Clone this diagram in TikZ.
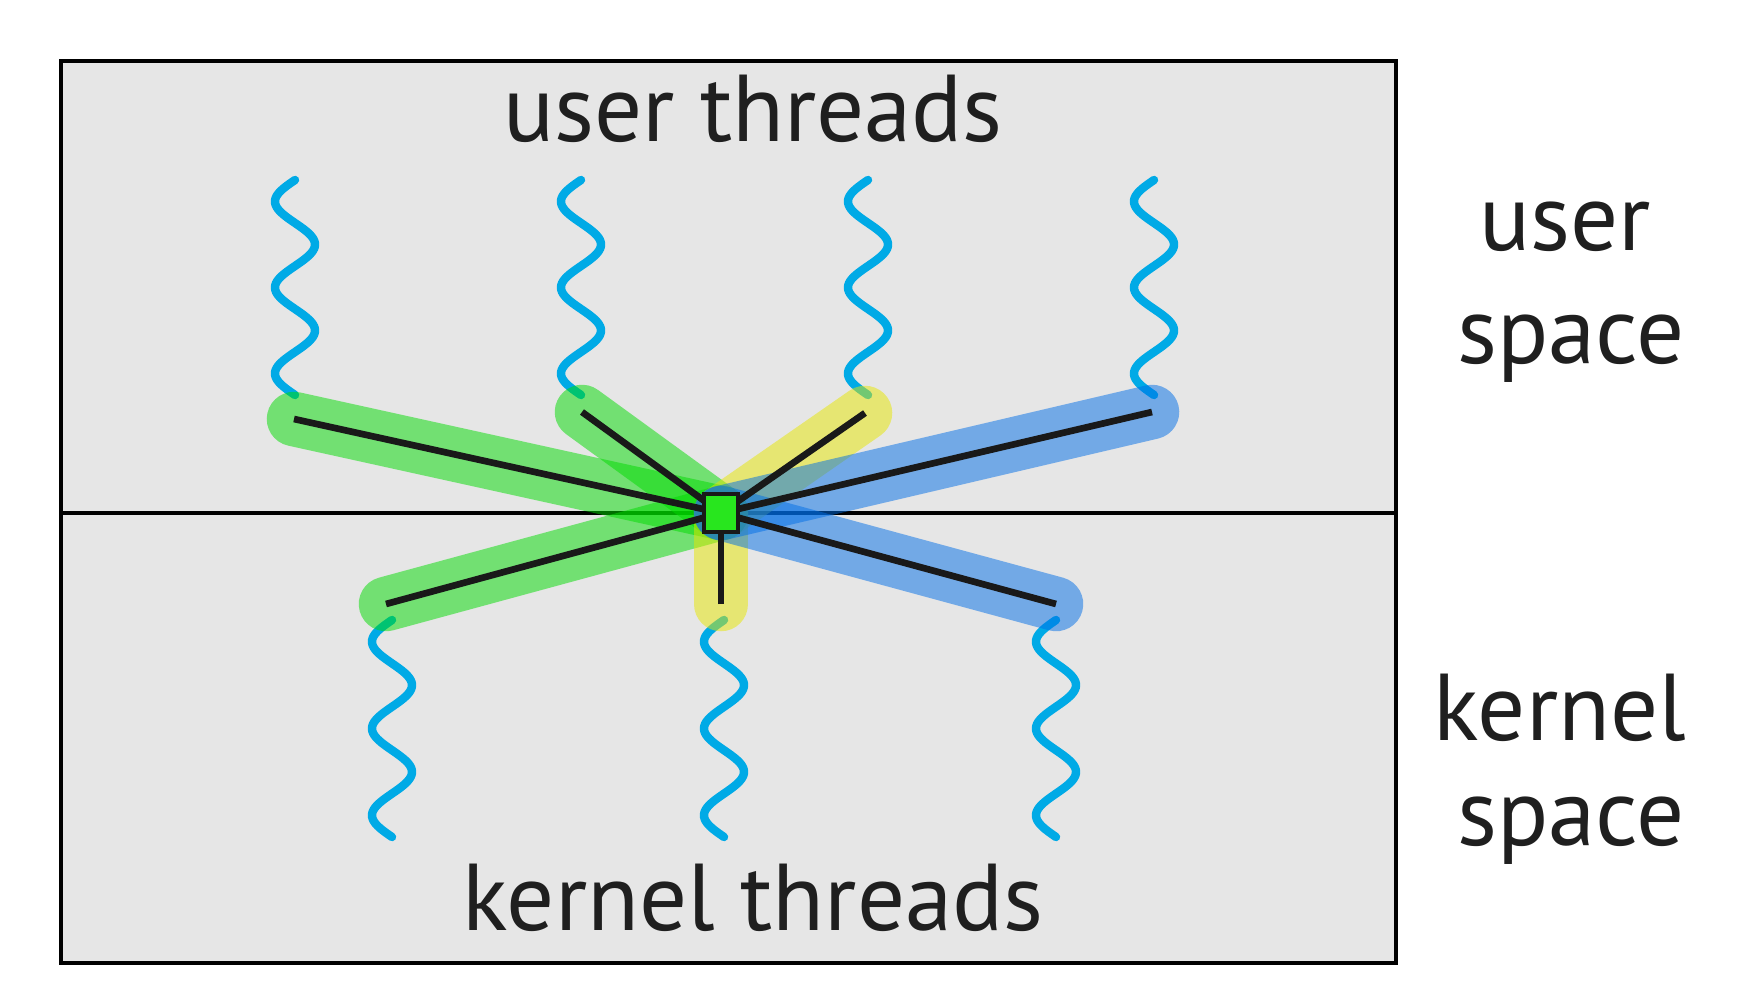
\documentclass[tikz,border=0pt]{standalone}
\usepackage{fontspec}
\setmainfont{PT Sans}
\usetikzlibrary{positioning}
\definecolor{bggray}{RGB}{230,230,230}
\definecolor{threadblue}{RGB}{0,170,230}
\definecolor{bandgreen}{RGB}{0,220,0}
\definecolor{bandyellow}{RGB}{230,230,0}
\definecolor{bandblue}{RGB}{0,110,230}
\definecolor{hubgreen}{RGB}{40,230,30}
\begin{document}
\begin{tikzpicture}[x=0.01cm, y=-0.01cm,
  lbl/.style={font=\fontsize{27}{32}\selectfont, text=black!88, inner sep=0pt, anchor=base},
  thread/.style={threadblue, line width=2.4pt, line cap=round},
  band/.style={line width=15.5pt, line cap=round, opacity=0.5},
  link/.style={black!90, line width=1.9pt},
  hub/.style={rectangle, draw=black!90, fill=hubgreen, line width=1.4pt,
    minimum width=0.34cm, minimum height=0.38cm, inner sep=0pt}
]
  \useasboundingbox (0,0) rectangle (1740,1000);

  % the two spaces
  \draw[fill=bggray, line width=1.3pt] (61,61) rectangle (1396,963);
  \draw[line width=1.1pt] (61,513) -- (1396,513);

  \node[lbl] (uthreads) at (753,141) {user threads};
  \node[lbl] (kthreads) at (753,930) {kernel threads};
  \node[lbl] (uspace1) at (1565,250) {user};
  \node[lbl] (uspace2) at (1571,363) {space};
  \node[lbl] (kspace1) at (1560,740) {kernel};
  \node[lbl] (kspace2) at (1571,845) {space};

  % threads
  \foreach \cx in {295,581,868,1154}
    \draw[thread] plot[domain=0:900, samples=120, variable=\t]
      ({\cx-20*sin(\t)}, {180+\t/900*215});
  \foreach \cx in {392,724,1056}
    \draw[thread] plot[domain=0:900, samples=120, variable=\t]
      ({\cx-20*sin(\t)}, {620+\t/900*217});

  \coordinate (u1) at (294,419);
  \coordinate (u2) at (582,412);
  \coordinate (u3) at (865,413);
  \coordinate (u4) at (1152,412);
  \coordinate (k1) at (386,604);
  \coordinate (k2) at (721,604);
  \coordinate (k3) at (1056,604);
  \coordinate (c) at (721,513);

  % mappings
  \draw[band, bandgreen]  (u1) -- (c);
  \draw[band, bandgreen]  (u2) -- (c);
  \draw[band, bandgreen]  (k1) -- (c);
  \draw[band, bandyellow] (u3) -- (c);
  \draw[band, bandyellow] (k2) -- (c);
  \draw[band, bandblue]   (u4) -- (c);
  \draw[band, bandblue]   (k3) -- (c);

  \foreach \e in {u1,u2,u3,u4,k1,k2,k3}
    \draw[link] (\e) -- (c);

  \node[hub] (mux) at (c) {};
\end{tikzpicture}
\end{document}
